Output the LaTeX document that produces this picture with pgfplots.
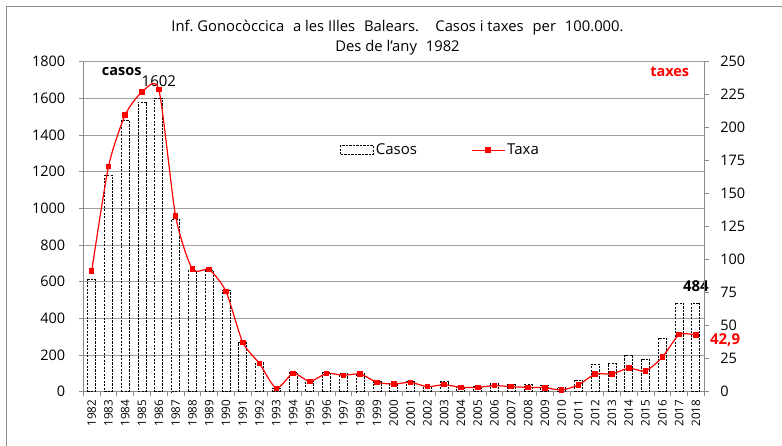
\documentclass[border=0pt]{standalone}
\usepackage{fontspec}
\setmainfont{Open Sans}
\usepackage{pgfplots}
\pgfplotsset{compat=1.18}
\definecolor{gridgray}{RGB}{160,160,160}
\definecolor{axgray}{RGB}{140,140,140}
\begin{document}
\begin{tikzpicture}[x=1pt,y=1pt]
\useasboundingbox (0,0) rectangle (782,446);
\draw[axgray, line width=1pt] (6,0) -- (6,439) -- (782,439);
\node[align=center, font=\fontsize{14.8}{20}\selectfont] at (397.5,408) {Inf.\ Gonocòccica\hspace{0.6em}a les Illes\hspace{0.6em}Balears.\hspace{1.1em}Casos i taxes\hspace{0.6em}per\hspace{0.6em}100.000.\\Des de l{\char"0027}any\hspace{0.6em}1982};
\pgfplotsset{
  base/.style={
    at={(83.3pt,54.3pt)}, anchor=south west, scale only axis,
    width=621pt, height=330pt,
    xmin=-0.5, xmax=36.5,
    tick align=outside,
    major tick length=4.5pt,
    axis line style={axgray, line width=0.9pt},
    tick style={axgray, line width=0.9pt},
    /pgf/number format/assume math mode=true,
    /pgf/number format/1000 sep={},
  }
}
\begin{axis}[base,
  ymin=0, ymax=1800,
  ytick={0,200,...,1800},
  axis x line*=bottom, axis y line*=left,
  ymajorgrids, major grid style={gridgray, line width=0.9pt},
  xtick={-0.5,0.5,...,36.5},
  x tick label as interval,
  xticklabels={1982,1983,1984,1985,1986,1987,1988,1989,1990,1991,1992,1993,1994,1995,1996,1997,1998,1999,2000,2001,2002,2003,2004,2005,2006,2007,2008,2009,2010,2011,2012,2013,2014,2015,2016,2017,2018},
  x tick label style={rotate=90, anchor=east, font=\fontsize{11.7}{12}\selectfont},
  y tick label style={font=\fontsize{14.5}{15}\selectfont, xshift=-10pt},
  clip=false,
]
\addplot[ybar, bar width=8pt, draw=black, fill=none, line width=0.9pt, dash pattern=on 2.2pt off 1.3pt] coordinates {
(0,610) (1,1180) (2,1480) (3,1580) (4,1602) (5,940) (6,660) (7,660) (8,552) (9,268)
(10,160) (11,18) (12,106) (13,60) (14,106) (15,97) (16,100) (17,55) (18,46) (19,55)
(20,27) (21,55) (22,30) (23,30) (24,46) (25,37) (26,40) (27,35) (28,24) (29,64)
(30,150) (31,155) (32,200) (33,178) (34,293) (35,484) (36,484)};
\node[anchor=base, inner sep=0pt, font=\fontsize{15}{15}\selectfont] at ([yshift=11pt]axis cs:4,1602) {1602};
\node[anchor=base, inner sep=0pt, font=\fontsize{15}{15}\selectfont\bfseries] at ([yshift=11pt]axis cs:36,484) {484};
\node[anchor=base west, inner sep=0pt, font=\fontsize{14.5}{15}\selectfont\bfseries] at (rel axis cs:0.0296,0.958) {casos};
\end{axis}
\begin{axis}[base,
  ymin=0, ymax=250,
  ytick={0,25,...,250},
  axis x line=none, axis y line*=right,
  y tick label style={font=\fontsize{14.5}{15}\selectfont, xshift=8pt},
  clip=false,
  legend style={at={(rel axis cs:0.413,0.732)}, anchor=west, draw=none, fill=none, inner sep=0pt,
    font=\fontsize{15}{16}\selectfont, legend columns=2,
    /tikz/every even column/.append style={column sep=52pt}},
  legend cell align=left,
]
\addlegendimage{legend image code/.code={\draw[black, line width=0.9pt, dash pattern=on 2.2pt off 1.3pt] (0pt,-4.3pt) rectangle (33pt,4.3pt);}}
\addlegendentry{Casos}
\addplot[red, line width=1.2pt, smooth, tension=0.4, mark=square*, mark size=2.2pt, mark options={solid},
  legend image code/.code={\draw[red, line width=1.2pt] (0pt,0pt) -- (33pt,0pt); \fill[red] (14.3pt,-2.2pt) rectangle (18.7pt,2.2pt);}] coordinates {
(0,91.4) (1,170.5) (2,209.8) (3,227) (4,228.8) (5,133) (6,92.8) (7,92.5) (8,76) (9,37.3)
(10,21.3) (11,2.5) (12,13.9) (13,7.8) (14,13.9) (15,12.4) (16,13.4) (17,7.1) (18,5.8) (19,7.1)
(20,3.8) (21,5.3) (22,3.3) (23,3.3) (24,4.6) (25,3.8) (26,3.3) (27,3.0) (28,1.3) (29,5.1)
(30,13.4) (31,13.4) (32,17.8) (33,15.7) (34,26.1) (35,43.2) (36,42.9)};
\addlegendentry{Taxa}
\node[anchor=west, inner sep=0pt, red, font=\fontsize{15}{15}\selectfont\bfseries] at ([xshift=14pt,yshift=-5pt]axis cs:36,42.9) {42,9};
\node[anchor=base east, inner sep=0pt, red, font=\fontsize{14.5}{15}\selectfont\bfseries] at (rel axis cs:0.976,0.954) {taxes};
\end{axis}
\end{tikzpicture}
\end{document}
